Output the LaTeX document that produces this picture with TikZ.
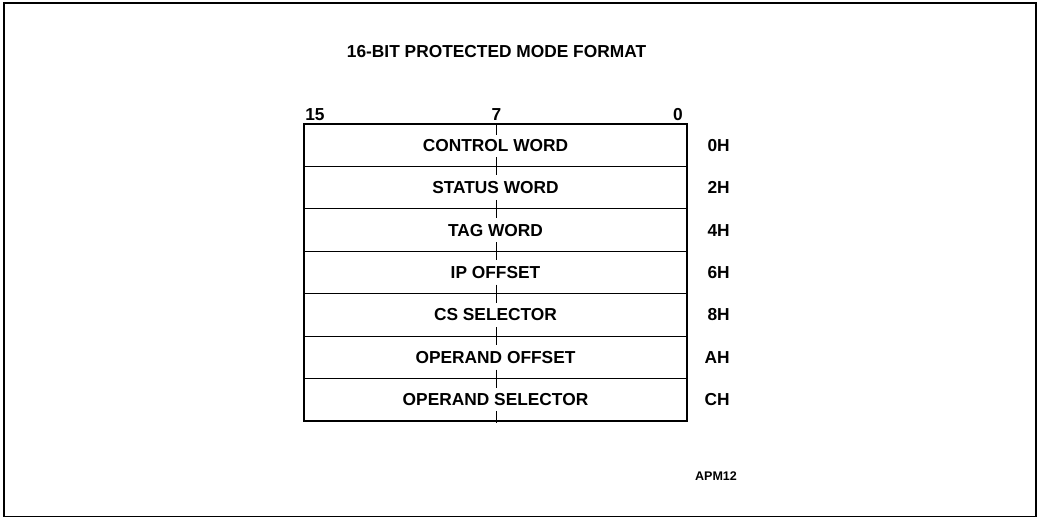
\documentclass[tikz,border=0pt]{standalone}
\usepackage{fontspec}
\setmainfont{Liberation Sans}
\usetikzlibrary{positioning}
\tikzset{
  regrow/.style={draw, line width=0.9pt, outer sep=0pt, inner sep=0pt,
    minimum width=287.25pt, minimum height=31.82pt,
    font=\bfseries\fontsize{13}{15}\selectfont},
  offset/.style={anchor=east, inner sep=0pt, font=\bfseries\fontsize{13}{15}\selectfont},
  bitno/.style={inner sep=0pt, font=\bfseries\fontsize{13}{15}\selectfont},
  midtick/.style={line width=0.75pt}
}

\begin{document}
\begin{tikzpicture}[x=0.75pt, y=0.75pt]
  \useasboundingbox (0,0) rectangle (1038,518);
  % outer frame
  \draw[line width=1.1pt] (4,515) rectangle (1036,1.5);

  \node[font=\bfseries\fontsize{13}{15}\selectfont] (title) at (496.5,466.3) {16-BIT PROTECTED MODE FORMAT};

  % register rows
  \foreach \txt [count=\i] in {CONTROL WORD, STATUS WORD, TAG WORD, IP OFFSET,
      CS SELECTOR, OPERAND OFFSET, OPERAND SELECTOR}
    \node[regrow] (r\i) at (495.5, {372.785-42.43*(\i-1)}) {\txt};
  \draw[line width=1.5pt] (r1.north west) rectangle (r7.south east);

  % bit numbers
  \node[bitno, anchor=base west] (b15) at (305,397.5) {15};
  \node[bitno, anchor=base] (b7) at (496.5,397.5) {7};
  \node[bitno, anchor=base east] (b0) at (683,397.5) {0};

  % middle ticks
  \coordinate (tick) at (496.5,0);
  \draw[midtick] (tick |- r1.north) -- ++(0,-11);
  \foreach \i in {2,...,7}
    \draw[midtick] (tick |- r\i.north) ++(0,9) -- ++(0,-18);
  \draw[midtick] (tick |- r7.south) ++(0,10) -- ++(0,-12);

  % offsets
  \coordinate (offcol) at (730,0);
  \foreach \off [count=\i] in {0H, 2H, 4H, 6H, 8H, AH, CH}
    \node[offset] (o\i) at (offcol |- r\i) {\off};

  \node[font=\bfseries\fontsize{9.4}{11}\selectfont] (fig) at (716,41.8) {APM12};
\end{tikzpicture}
\end{document}
